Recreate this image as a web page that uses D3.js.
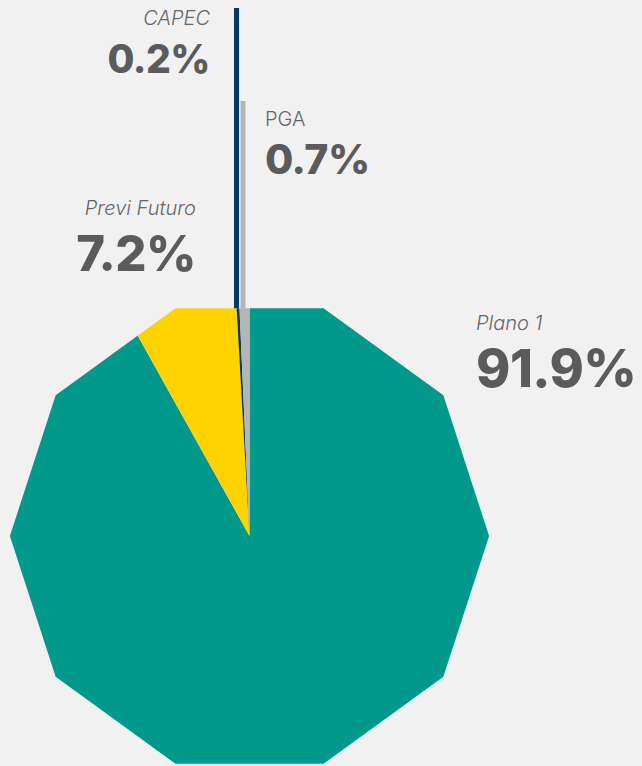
<!DOCTYPE html>
<meta charset="utf-8">
<head>
  <title>Distribuição por plano</title>
</head>

<style>
body {
  margin: 0;
  background: #f1f1f1;
}
text {
  font-family: Inter, Roboto, "Noto Sans", sans-serif;
  fill: #5b5b5d;
}
.name {
  font-style: italic;
  font-weight: 300;
  font-size: 20px;
  fill: #666668;
}
.name.plain {
  font-style: normal;
}
.pct {
  font-weight: 800;
  letter-spacing: -0.5px;
}
</style>

<body>
  <svg width="642" height="766"></svg>

  <script src="https://cdnjs.cloudflare.com/ajax/libs/d3/7.8.5/d3.min.js"></script>
  <script>
var planos = ["Plano 1", "Previ Futuro", "CAPEC", "PGA"];
var valores = [91.9, 7.2, 0.2, 0.7];
var cores = ["#00998b", "#ffd200", "#003a66", "#b3b5b7"];

var svg = d3.select('svg');
var cx = 249.5, cy = 536, R = 239.6;
var lados = 10;

// decágono que recorta a pizza
var poligono = d3.range(lados).map(function(i) {
  var a = (18 + i * 360 / lados) * Math.PI / 180;
  return [cx + R * Math.sin(a), cy - R * Math.cos(a)];
});

svg.append('clipPath')
  .attr('id', 'deca')
  .append('polygon')
  .attr('points', poligono.map(function(p) { return p.join(','); }).join(' '));

var pie = d3.pie().sort(null).value(function(d) { return d; });
var arcs = pie(valores);

var arc = d3.arc().innerRadius(0).outerRadius(R * 1.3);

svg.append('g')
  .attr('clip-path', 'url(#deca)')
  .append('g')
  .attr('transform', 'translate(' + [cx, cy] + ')')
  .selectAll('path')
  .data(arcs)
  .enter()
  .append('path')
  .attr('d', arc)
  .attr('fill', function(d, i) { return cores[i]; });

// linhas de destaque para as fatias pequenas
var apotema = R * Math.cos(Math.PI / lados);
var topoLinha = { "CAPEC": 8, "PGA": 101 };

svg.selectAll('line.lider')
  .data(arcs.filter(function(d, i) { return topoLinha[planos[i]] != null; }))
  .enter()
  .append('line')
  .attr('class', 'lider')
  .attr('x1', function(d) { return cx + apotema * Math.tan((d.startAngle + d.endAngle) / 2) - 1.5; })
  .attr('x2', function(d) { return cx + apotema * Math.tan((d.startAngle + d.endAngle) / 2) - 1.5; })
  .attr('y1', cy - apotema)
  .attr('y2', function(d) { return topoLinha[planos[d.index]]; })
  .attr('stroke', function(d) { return cores[d.index]; })
  .attr('stroke-width', 5);

// rótulos
var rotulos = {
  "Plano 1":      { x: 476, yNome: 330, yPct: 387, anchor: 'start', size: 52 },
  "Previ Futuro": { x: 196, yNome: 215, yPct: 271, anchor: 'end',   size: 49 },
  "CAPEC":        { x: 210, yNome: 25,  yPct: 73,  anchor: 'end',   size: 39 },
  "PGA":          { x: 265, yNome: 126, yPct: 174, anchor: 'start', size: 41, plain: true }
};

var fmt = function(v) { return v.toFixed(1) + '%'; };

var labels = svg.append('g')
  .selectAll('g')
  .data(planos)
  .enter()
  .append('g');

labels.append('text')
  .attr('class', function(d) { return rotulos[d].plain ? 'name plain' : 'name'; })
  .attr('x', function(d) { return rotulos[d].x; })
  .attr('y', function(d) { return rotulos[d].yNome; })
  .attr('text-anchor', function(d) { return rotulos[d].anchor; })
  .text(function(d) { return d; });

labels.append('text')
  .attr('class', 'pct')
  .attr('x', function(d) { return rotulos[d].x; })
  .attr('y', function(d) { return rotulos[d].yPct; })
  .attr('text-anchor', function(d) { return rotulos[d].anchor; })
  .style('font-size', function(d) { return rotulos[d].size + 'px'; })
  .text(function(d, i) { return fmt(valores[i]); });
  </script>
</body>
</html>
